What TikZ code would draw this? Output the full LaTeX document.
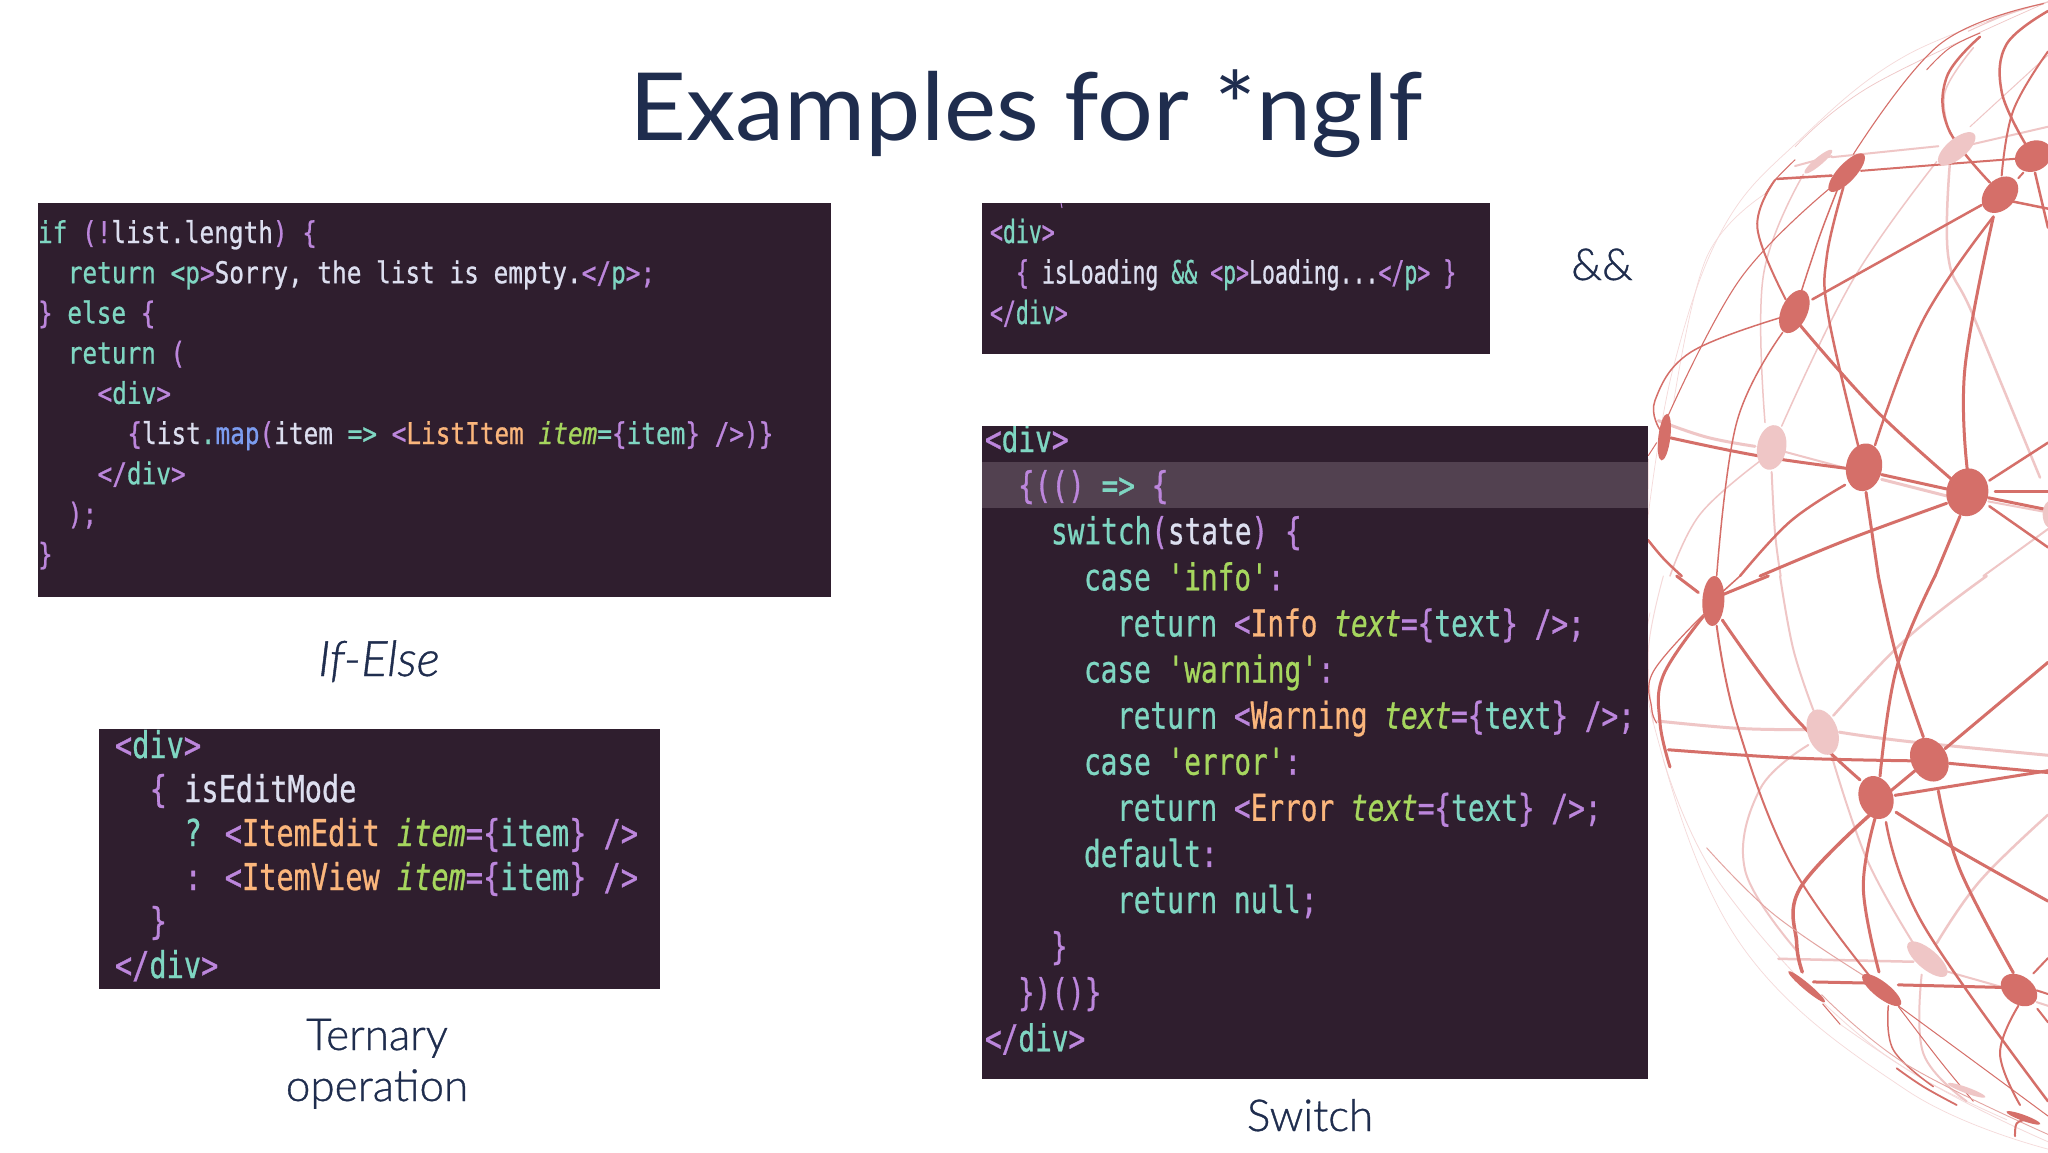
\documentclass[tikz,border=0pt]{standalone}
\usepackage{fontspec}
\setmainfont{Lato}
\newfontfamily\titlefont[FakeStretch=1.05]{Lato}
\newfontfamily\labfont[FakeBold=0.8]{Lato Light}
\newfontfamily\codeA[FakeStretch=0.813,FakeBold=0.8]{DejaVu Sans Mono}
\newfontfamily\codeB[FakeStretch=0.672,FakeBold=0.8]{DejaVu Sans Mono}
\newfontfamily\codeC[FakeStretch=0.75,FakeBold=0.8]{DejaVu Sans Mono}
\newfontfamily\codeD[FakeStretch=0.773,FakeBold=0.8]{DejaVu Sans Mono}
\definecolor{navy}{HTML}{1F2D4E}
\definecolor{panelbg}{HTML}{2F1E2E}
\definecolor{hl}{HTML}{524150}
\definecolor{ct}{HTML}{7FD6C2}
\definecolor{cp}{HTML}{BC86DC}
\definecolor{cw}{HTML}{DDDFF0}
\definecolor{co}{HTML}{FBB67C}
\definecolor{cg}{HTML}{A6D65E}
\definecolor{cb}{HTML}{7C9CF0}
\definecolor{sdark}{HTML}{D56F69}
\definecolor{slight}{HTML}{EFC6C6}
\definecolor{sfaint}{HTML}{F5DADA}
\definecolor{smid}{HTML}{E3A5A2}
\newcommand{\T}[1]{\textcolor{ct}{#1}}
\newcommand{\Pu}[1]{\textcolor{cp}{#1}}
\newcommand{\W}[1]{\textcolor{cw}{#1}}
\newcommand{\Or}[1]{\textcolor{co}{#1}}
\newcommand{\G}[1]{\textcolor{cg}{#1}}
\newcommand{\Bl}[1]{\textcolor{cb}{#1}}
\newcommand{\setpanel}[5]{\def\px{#1}\def\py{#2}\def\pa{#3}\def\ps{#4}\def\pf{#5}}
\newcommand{\cdl}[4]{\node[codeline] (#1) at ({\px+#2*\pa},{\py+#3*\ps}) {\pf #4};}
% sphere helpers: long half axis, short half axis, angle of long axis
\newcommand{\blob}[6]{\fill[#1,shift={(#2,#3)},rotate=#6] (0,0) ellipse [x radius=#4pt,y radius=#5pt];}
\newcommand{\lnk}[3]{\draw[#1,line width=#2pt,line cap=round] plot[smooth,tension=.65] coordinates {#3};}
\tikzset{
  codeline/.style={anchor=base west,inner sep=0pt,outer sep=0pt},
  panel/.style={fill=panelbg,draw=none},
  label/.style={anchor=base,inner sep=0pt,text=navy,align=center},
  caption/.style={label,font=\labfont\fontsize{44}{44}\selectfont},
}
\begin{document}
\begin{tikzpicture}[x=1pt,y=-1pt]
\useasboundingbox (0,0) rectangle (2048,1152);
\fill[white] (0,0) rectangle (2048,1152);

\begin{scope}
\clip (0,0) rectangle (2048,1152);
% ---------- upper half of the sphere
\begin{scope}[shift={(1640,0)},x=0.33333pt,y=-0.36735pt]
% faint
\lnk{sfaint}{.7}{(1224,5) (800,150) (480,380) (250,620) (100,1000) (25,1400)}
\lnk{slight}{.7}{(1224,5) (700,230) (465,400)}
\lnk{sfaint}{.7}{(380,525) (200,700) (100,1100)}
\lnk{sfaint}{.8}{(25,1250) (22,1568)}
\lnk{slight}{1}{(1224,150) (990,345)}
\lnk{slight}{1.5}{(930,365) (915,250) (1000,130)}
\lnk{slight}{1}{(985,85) (1100,40) (1224,5)}
\lnk{slight}{1}{(1040,60) (1090,40) (1130,30)}
\lnk{slight}{2.5}{(930,440) (925,700) (1000,860) (1200,1300)}
\lnk{slight}{1.5}{(890,440) (640,760) (425,1160)}
\lnk{slight}{1.5}{(490,475) (370,750) (375,1150)}
\lnk{slight}{1.5}{(360,1255) (180,1400) (90,1568)}
\lnk{slight}{2}{(395,1285) (405,1450) (422,1568)}
\lnk{slight}{3}{(55,1145) (200,1190) (345,1215)}
\lnk{slight}{2}{(435,1230) (620,1275)}
\lnk{slight}{3}{(725,1305) (920,1350)}
\lnk{slight}{2}{(1045,1365) (1224,1395)}
\lnk{slight}{2}{(1224,1440) (1030,1568)}
\lnk{slight}{2}{(465,452) (575,425)}
\lnk{slight}{2}{(575,428) (895,398)}
\lnk{slight}{2}{(995,393) (1224,345)}
% dark
\lnk{sdark}{1.1}{(1210,10) (900,120) (640,420)}
\lnk{sdark}{1}{(1020,90) (930,130) (860,190)}
\lnk{sdark}{1.1}{(570,512) (300,760) (85,1130)}
\lnk{sdark}{2.5}{(575,478) (410,487)}
\lnk{sdark}{2}{(405,490) (352,620) (437,815)}
\lnk{sdark}{1}{(375,530) (405,490) (465,435)}
\lnk{sdark}{2}{(663,465) (900,448) (1130,432)}
\lnk{sdark}{1.5}{(595,510) (540,640) (485,790)}
\lnk{sdark}{2.5}{(610,510) (560,700) (565,860) (655,1215)}
\lnk{sdark}{2.5}{(517,815) (1025,558)}
\lnk{sdark}{3}{(480,885) (700,1110) (935,1305)}
\lnk{sdark}{2.5}{(705,1212) (850,870) (1060,590)}
\lnk{sdark}{3}{(982,1280) (975,1000) (1060,590)}
\lnk{sdark}{1.5}{(420,865) (150,960) (45,1090) (60,1170)}
\lnk{sdark}{1.5}{(428,905) (290,1150) (230,1568)}
\lnk{sdark}{3}{(92,1192) (350,1240) (620,1275)}
\lnk{sdark}{3}{(725,1292) (925,1332)}
\lnk{sdark}{3}{(1045,1355) (1224,1388)}
\lnk{sdark}{2.5}{(1065,1338) (1224,1338)}
\lnk{sdark}{2.5}{(1048,1308) (1224,1205)}
\lnk{sdark}{2.5}{(1048,1378) (1224,1490)}
\lnk{sdark}{3}{(960,1405) (885,1568)}
\lnk{sdark}{3}{(678,1340) (715,1568)}
\lnk{sdark}{2.5}{(615,1320) (450,1420) (300,1568)}
\lnk{sdark}{3}{(920,1370) (620,1470) (360,1568)}
\lnk{sdark}{2.5}{(1050,497) (925,350) (920,210) (1020,100)}
\lnk{sdark}{2.5}{(1155,390) (1085,250) (1100,120) (1224,30)}
\lnk{sdark}{2}{(1085,478) (1120,300) (1224,140)}
\lnk{sdark}{2}{(1135,485) (1150,470)}
\lnk{sdark}{2.5}{(1115,548) (1224,568)}
\lnk{sdark}{2.5}{(1185,470) (1224,620)}
\lnk{sdark}{2.5}{(24,1470) (70,1520) (125,1568)}
\lnk{sdark}{1}{(25,1240) (50,1205)}
% blobs
\blob{slight}{950}{405}{23}{10}{40}
\blob{slight}{535}{440}{18}{4}{40}
\blob{slight}{395}{1218}{22.5}{14.5}{80}
\blob{slight}{1238}{1400}{15}{10}{90}
\blob{sdark}{620}{470}{25}{9}{47}
\blob{sdark}{1180}{425}{19}{15}{25}
\blob{sdark}{1080}{530}{21}{15}{45}
\blob{sdark}{463}{848}{23}{13}{65}
\blob{sdark}{73}{1190}{23.5}{6}{83}
\blob{sdark}{672}{1272}{24}{18}{80}
\blob{sdark}{982}{1340}{24}{21}{80}
\end{scope}
% ---------- lower half of the sphere
\begin{scope}[shift={(1640,576)},x=0.33333pt,y=-0.36735pt]
\lnk{sfaint}{.7}{(30,100) (40,400) (300,1000) (800,1400) (1224,1560)}
\lnk{sfaint}{.8}{(70,500) (250,850) (700,1280) (1224,1540)}
\lnk{sfaint}{1}{(70,0) (25,200) (40,400)}
\lnk{sfaint}{.8}{(600,1220) (850,1370) (1100,1480)}
\lnk{slight}{3}{(55,395) (300,415) (500,418)}
\lnk{slight}{3}{(598,425) (800,450) (1224,488)}
\lnk{slight}{2}{(420,0) (460,200) (520,365)}
\lnk{slight}{2.5}{(1040,0) (800,170) (580,380)}
\lnk{slight}{2}{(505,460) (360,580) (315,800) (470,1020)}
\lnk{slight}{2}{(575,490) (680,770) (820,1000)}
\lnk{slight}{2.5}{(1224,650) (1020,830) (890,1000)}
\lnk{slight}{2.5}{(415,1042) (820,1050)}
\lnk{slight}{2}{(915,1075) (1090,1120)}
\lnk{slight}{2}{(1190,1160) (1224,1170)}
\lnk{slight}{2}{(845,1085) (850,1300) (980,1430)}
\lnk{sdark}{3}{(110,0) (175,45)}
\lnk{sdark}{3}{(250,50) (385,0)}
\lnk{sdark}{1.5}{(245,45) (300,0)}
\lnk{sdark}{1.2}{(190,105) (40,260) (35,360) (50,400)}
\lnk{sdark}{3}{(190,110) (70,270) (60,400) (90,520)}
\lnk{sdark}{3}{(85,473) (450,495) (812,503)}
\lnk{sdark}{3}{(247,120) (450,370) (660,555)}
\lnk{sdark}{2}{(230,135) (290,400) (450,780) (690,1090)}
\lnk{sdark}{3}{(715,0) (770,220) (850,438)}
\lnk{sdark}{3}{(885,0) (770,250) (720,545)}
\lnk{sdark}{3}{(915,470) (1224,235)}
\lnk{sdark}{3}{(928,510) (1224,535)}
\lnk{sdark}{3}{(765,597) (1224,530)}
\lnk{sdark}{3}{(752,585) (825,530)}
\lnk{sdark}{3}{(768,643) (950,745) (1224,885)}
\lnk{sdark}{3}{(895,585) (960,800) (1120,1080)}
\lnk{sdark}{3.5}{(690,650) (480,850) (470,1000) (487,1078)}
\lnk{sdark}{3}{(705,660) (670,850) (717,1078)}
\lnk{sdark}{2.5}{(738,670) (850,950) (1224,1430)}
\lnk{sdark}{3}{(520,1105) (680,1108)}
\lnk{sdark}{3}{(775,1113) (1090,1120)}
\lnk{sdark}{2}{(1190,1128) (1224,1138)}
\lnk{sdark}{2}{(1192,1178) (1224,1215)}
\lnk{sdark}{2}{(1180,1082) (1224,1040)}
\lnk{sdark}{2}{(1135,1170) (1080,1300) (1140,1440)}
\lnk{sdark}{1.5}{(745,1170) (760,1290) (880,1390)}
\lnk{sdark}{1}{(775,1172) (900,1320) (1000,1430)}
\lnk{sdark}{1}{(775,1170) (1000,1320) (1224,1470)}
\lnk{smid}{1}{(200,740) (400,920) (675,1090)}
\lnk{smid}{.9}{(545,1140) (800,1330) (1224,1520)}
\lnk{sdark}{1.8}{(770,1340) (850,1390) (950,1440)}
\lnk{sdark}{1}{(548,1165) (600,1220)}
\lnk{sdark}{2}{(1125,1525) (1130,1490) (1160,1480)}
\blob{slight}{548}{425}{23.5}{15}{110}
\blob{slight}{862}{1043}{25}{10}{-40}
\blob{slight}{980}{1400}{20}{3}{-20}
\blob{sdark}{220}{68}{25}{11}{87}
\blob{sdark}{868}{500}{23}{18}{120}
\blob{sdark}{708}{603}{22}{17}{110}
\blob{sdark}{1137}{1127}{20}{14}{-35}
\blob{sdark}{725}{1127}{24}{8}{-38}
\blob{sdark}{500}{1118}{24}{3.5}{-40}
\blob{sdark}{1150}{1475}{18}{3}{-20}
\end{scope}
\end{scope}

% ---------- title and labels
\node[label,font=\titlefont\fontsize{94}{94}\selectfont] (title) at (1026,140) {Examples for *ngIf};
\node[caption] (ifelse) at (379,676) {\fontsize{49}{49}\selectfont\itshape If-Else};
\node[caption] (andand) at (1602,280) {\&\&};
\node[caption] (ternary) at (377,1050) {Ternary};
\node[caption] (oper) at (377,1101) {operation};
\node[caption] (switchlab) at (1310,1131) {Switch};

% ---------- panel 1
\fill[panel] (38,203) rectangle (831,597);
\setpanel{38}{243}{14.9}{40.2}{\codeA\fontsize{30}{30}\selectfont}
\cdl{a1}{0}{0}{\T{if} \Pu{(!}\W{list.length}\Pu{)} \Pu{\{}}
\cdl{a2}{2}{1}{\T{return} \T{<}\T{p}\Pu{>}\W{Sorry, the list is empty.}\Pu{</}\T{p}\Pu{>;}}
\cdl{a3}{0}{2}{\Pu{\}} \T{else} \Pu{\{}}
\cdl{a4}{2}{3}{\T{return} \Pu{(}}
\cdl{a5}{4}{4}{\Pu{<}\T{div}\Pu{>}}
\cdl{a6}{6}{5}{\Pu{\{}\W{list}\T{.}\Bl{map}\Pu{(}\W{item} \T{=>} \Pu{<}\Or{ListItem} \G{\itshape item}\T{=}\Pu{\{}\T{item}\Pu{\}} \Pu{/>)\}}}
\cdl{a7}{4}{6}{\Pu{</}\T{div}\Pu{>}}
\cdl{a8}{2}{7}{\Pu{);}}
\cdl{a9}{0}{8}{\Pu{\}}}

% ---------- panel 2
\fill[panel] (982,203) rectangle (1490,354);
\draw[cp,line width=1pt] (1061,203) -- (1062,208);
\setpanel{990}{243}{13}{40.5}{\codeB\fontsize{32}{32}\selectfont}
\cdl{b1}{0}{0}{\Pu{<}\T{div}\Pu{>}}
\cdl{b2}{2}{1}{\Pu{\{} \W{isLoading} \T{\&\&} \Pu{<}\T{p}\Pu{>}\W{Loading...}\Pu{</}\T{p}\Pu{>} \Pu{\}}}
\cdl{b3}{0}{2}{\Pu{</}\T{div}\Pu{>}}

% ---------- panel 3
\begin{scope}
\clip (982,426) rectangle (1648,1079);
\fill[panel] (982,426) rectangle (1648,1079);
\fill[hl] (982,462) rectangle (1648,508);
\setpanel{985}{452}{16.5}{46.1}{\codeC\fontsize{37}{37}\selectfont}
\cdl{c1}{0}{0}{\Pu{<}\T{div}\Pu{>}}
\cdl{c2}{2}{1}{\Pu{\{(()} \T{=>} \Pu{\{}}
\cdl{c3}{4}{2}{\T{switch}\Pu{(}\W{state}\Pu{)} \Pu{\{}}
\cdl{c4}{6}{3}{\T{case} \G{'info'}\Pu{:}}
\cdl{c5}{8}{4}{\T{return} \Pu{<}\Or{Info} \G{\itshape text}\Pu{=\{}\T{text}\Pu{\}} \Pu{/>;}}
\cdl{c6}{6}{5}{\T{case} \G{'warning'}\Pu{:}}
\cdl{c7}{8}{6}{\T{return} \Pu{<}\Or{Warning} \G{\itshape text}\Pu{=\{}\T{text}\Pu{\}} \Pu{/>;}}
\cdl{c8}{6}{7}{\T{case} \G{'error'}\Pu{:}}
\cdl{c9}{8}{8}{\T{return} \Pu{<}\Or{Error} \G{\itshape text}\Pu{=\{}\T{text}\Pu{\}} \Pu{/>;}}
\cdl{c10}{6}{9}{\T{default}\Pu{:}}
\cdl{c11}{8}{10}{\T{return} \T{null}\Pu{;}}
\cdl{c12}{4}{11}{\Pu{\}}}
\cdl{c13}{2}{12}{\Pu{\})()\}}}
\cdl{c14}{0}{13}{\Pu{</}\T{div}\Pu{>}}
\end{scope}

% ---------- panel 4
\begin{scope}
\clip (99,729) rectangle (660,989);
\fill[panel] (99,729) rectangle (660,989);
\setpanel{115}{758}{17.4}{44}{\codeD\fontsize{37}{37}\selectfont}
\cdl{d1}{0}{0}{\Pu{<}\T{div}\Pu{>}}
\cdl{d2}{2}{1}{\Pu{\{} \W{isEditMode}}
\cdl{d3}{4}{2}{\T{?} \Pu{<}\Or{ItemEdit} \G{\itshape item}\Pu{=\{}\T{item}\Pu{\}} \Pu{/>}}
\cdl{d4}{4}{3}{\Pu{:} \Pu{<}\Or{ItemView} \G{\itshape item}\Pu{=\{}\T{item}\Pu{\}} \Pu{/>}}
\cdl{d5}{2}{4}{\Pu{\}}}
\cdl{d6}{0}{5}{\Pu{</}\T{div}\Pu{>}}
\end{scope}
\end{tikzpicture}
\end{document}
